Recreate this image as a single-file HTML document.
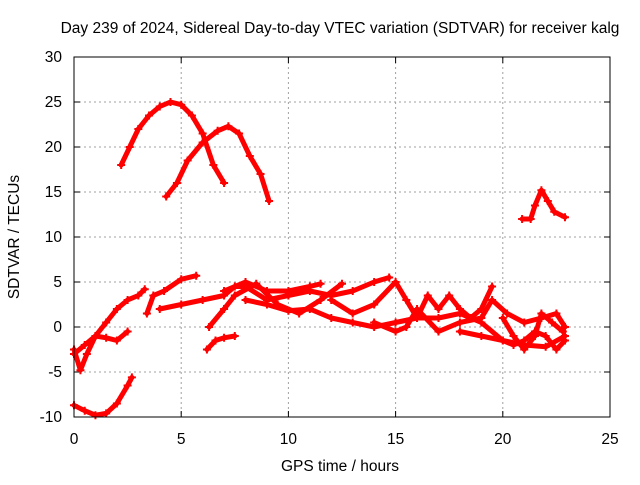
<!DOCTYPE html>
<html><head><meta charset="utf-8"><style>
body{margin:0;background:#fff;font-family:"Liberation Sans",sans-serif}
svg text{font-family:"Liberation Sans",sans-serif;font-size:15.5px;fill:#000}
</style></head><body>
<svg id="c" width="640" height="480">
<text x="340" y="33" text-anchor="middle">Day 239 of 2024, Sidereal Day-to-day VTEC variation (SDTVAR) for receiver kalg</text>
<text x="340" y="471" text-anchor="middle">GPS time / hours</text>
<text transform="translate(19,237) rotate(-90)" text-anchor="middle">SDTVAR / TECUs</text>
<g id="grid"></g>
<g id="ticks"></g>
<g id="marks"></g>
<rect x="74" y="57" width="536" height="360" fill="none" stroke="#000" stroke-width="1"/>
</svg>
<script>
const xTicks=[0,5,10,15,20,25];
const yTicks=[-10,-5,0,5,10,15,20,25,30];
const track1=[[2.2,18],[2.6,20],[3,22],[3.5,23.5],[4,24.5],[4.5,25],[5,24.7],[5.5,23.5],[6,21.5],[6.5,18],[7,16]];
const track2=[[4.3,14.5],[4.8,16],[5.3,18.5],[6,20.5],[6.7,21.8],[7.2,22.3],[7.7,21.5],[8.2,19],[8.7,17],[9.1,14]];
const track3=[[20.9,12],[21.3,12],[21.5,13.5],[21.8,15.2],[22.1,14],[22.4,12.8],[22.9,12.2]];
const track4=[[0,-8.7],[0.5,-9.3],[1,-9.8],[1.5,-9.6],[2,-8.5],[2.5,-6.5],[2.7,-5.6]];
const track5=[[6.2,-2.5],[6.6,-1.5],[7,-1.2],[7.5,-1]];
const track6=[[0,-2.5],[0.3,-4.8],[0.6,-3],[1,-1],[1.5,0.5],[2,2],[2.5,3],[3,3.5],[3.3,4.2]];
const track7=[[0,-3],[0.5,-2],[1,-1],[1.5,-1.2],[2,-1.5],[2.5,-0.5]];
const track8=[[3.4,1.5],[3.7,3.5],[4.2,4],[5,5.3],[5.7,5.7]];
const track9=[[4,2],[5,2.5],[6,3],[7,3.5],[7.5,4.5],[8,4.5],[9,3],[10,3.5],[11,4],[12,3.5],[13,4],[14,5],[14.7,5.5]];
const track10=[[6.3,0],[7,2],[7.5,3.5],[8.5,4.8],[9.5,2.5],[10.5,1.5],[11.5,3],[12.5,4.8]];
const track11=[[7,4],[8,5],[9,4],[10,4],[11,4.5],[11.5,4.8]];
const track12=[[8,3],[9,2.5],[10,1.8],[11,2],[12,1],[13,0.5],[14,0],[15,0.5],[16,1],[17,1],[18,1.5],[19,0.5],[20,-1.5],[21,-2],[22,-2.2],[22.9,-1]];
const track13=[[12,3],[13,1.5],[14,2.5],[15,5],[15.5,3],[16,1],[16.5,3.5],[17,2],[17.5,3.5],[18,2],[18.5,1],[19,2],[19.5,4.5]];
const track14=[[14,0.5],[15,-0.5],[15.5,0],[16,2],[17,-0.5],[18,0.5],[19,1],[19.5,3],[20.2,1.5],[21,0.5],[21.8,1],[22.5,1.5],[22.9,0]];
const track15=[[18,-0.5],[19,-1],[20,-1.5],[20.5,-2],[21,-1.5],[21.5,-0.5],[22,-1],[22.5,-2.5],[22.9,-1.5]];
const track16=[[20,1],[20.5,-1],[21,-2.5],[21.5,-1],[21.8,1.5],[22.3,0.5],[22.8,-0.5]];
const tracks=[track1,track2,track3,track4,track5,track6,track7,track8,track9,track10,track11,track12,track13,track14,track15,track16];
const NS="http://www.w3.org/2000/svg";
const X=v=>74+(v-0)/25*536, Y=v=>417-(v+10)/40*360;
const grid=document.getElementById('grid'),ticks=document.getElementById('ticks'),marks=document.getElementById('marks');
function mk(t,a,p){const e=document.createElementNS(NS,t);for(const k in a)e.setAttribute(k,a[k]);p.appendChild(e);return e;}
xTicks.forEach(v=>{
 if(v>0&&v<25){const g=mk('line',{x1:X(v),x2:X(v),y1:57,y2:417,stroke:'#a0a0a0','stroke-dasharray':'2,3'},grid);
 
 }
 mk('line',{x1:X(v),x2:X(v),y1:417,y2:411,stroke:'#000'},ticks);
 mk('line',{x1:X(v),x2:X(v),y1:57,y2:63,stroke:'#000'},ticks);
 const t=mk('text',{x:X(v),y:444,'text-anchor':'middle'},ticks);t.textContent=v;
 
 
});
yTicks.forEach(v=>{
 if(v>-10&&v<30){const g=mk('line',{x1:74,x2:610,y1:Y(v),y2:Y(v),stroke:'#a0a0a0','stroke-dasharray':'2,3'},grid);
 
 }
 mk('line',{x1:74,x2:80,y1:Y(v),y2:Y(v),stroke:'#000'},ticks);
 mk('line',{x1:604,x2:610,y1:Y(v),y2:Y(v),stroke:'#000'},ticks);
 const t=mk('text',{x:62,y:Y(v)+5,'text-anchor':'end'},ticks);t.textContent=v;
 
 
});
tracks.forEach(tr=>{
 const p=mk('polyline',{points:tr.map(d=>X(d[0])+','+Y(d[1])).join(' '),fill:'none',stroke:'#ff0000','stroke-width':5,'stroke-linejoin':'round','stroke-linecap':'round'},marks);
 
 
 tr.forEach(d=>{
  const m=mk('path',{d:`M${X(d[0])-4},${Y(d[1])}h8M${X(d[0])},${Y(d[1])-4}v8`,stroke:'#ff0000','stroke-width':2},marks);
  
  
 });
});
</script>
</body></html>
